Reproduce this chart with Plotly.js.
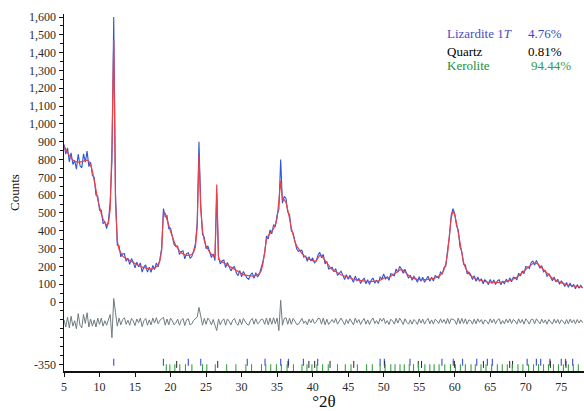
<!DOCTYPE html>
<html>
<head>
<meta charset="utf-8">
<script src="https://cdn.plot.ly/plotly-3.0.1.min.js"></script>
<style>html,body{margin:0;padding:0;background:#fff;}#chart{width:584px;height:411px;}</style>
</head>
<body>
<div id="chart"></div>
<script>
// Sampling grid of the scan (degrees 2-theta)
const start2T = 5.0;
const step2T = 0.25;

// Observed counts (blue), 4 values per degree from 5.00 to 78.00
const observed = [
  885, 830, 865, 787,   // 5
  838, 772, 795, 746,   // 6
  830, 766, 753, 832,   // 7
  786, 847, 760, 785,   // 8
  710, 700, 600, 595,   // 9
  515, 515, 440, 450,   // 10
  412, 455, 560, 790,   // 11
  1600, 610, 320, 315,  // 12
  254, 270, 272, 229,   // 13
  246, 212, 244, 224,   // 14
  192, 224, 198, 220,   // 15
  168, 198, 208, 168,   // 16
  196, 167, 206, 182,   // 17
  220, 198, 240, 305,   // 18
  525, 478, 485, 412,   // 19
  415, 369, 322, 312,   // 20
  314, 267, 283, 288,   // 21
  243, 272, 277, 245,   // 22
  256, 288, 328, 445,   // 23
  900, 545, 380, 363,   // 24
  300, 315, 286, 250,   // 25
  270, 232, 610, 255,   // 26
  214, 231, 236, 194,   // 27
  222, 202, 175, 194,   // 28
  198, 164, 148, 177,   // 29
  142, 172, 153, 135,   // 30
  127, 152, 164, 133,   // 31
  165, 141, 156, 189,   // 32
  227, 275, 370, 354,   // 33
  405, 383, 434, 423,   // 34
  490, 520, 800, 555,   // 35
  593, 582, 505, 490,   // 36
  400, 388, 344, 299,   // 37
  284, 290, 290, 252,   // 38
  258, 229, 255, 230,   // 39
  248, 220, 230, 263,   // 40
  280, 248, 268, 214,   // 41
  229, 186, 190, 195,   // 42
  170, 188, 150, 162,   // 43
  173, 151, 127, 153,   // 44
  128, 151, 128, 111,   // 45
  146, 118, 134, 104,   // 46
  122, 135, 102, 125,   // 47
  99, 123, 135, 106,    // 48
  123, 105, 140, 130,   // 49
  158, 128, 142, 122,   // 50
  159, 156, 146, 186,   // 51
  167, 200, 186, 162,   // 52
  184, 153, 134, 151,   // 53
  122, 144, 131, 111,   // 54
  142, 117, 139, 111,   // 55
  132, 145, 116, 140,   // 56
  118, 149, 143, 134,   // 57
  168, 158, 194, 203,   // 58
  293, 363, 486, 524,   // 59
  498, 429, 405, 308,   // 60
  283, 212, 208, 158,   // 61
  168, 154, 126, 148,   // 62
  117, 141, 118, 131,   // 63
  103, 125, 115, 98,    // 64
  127, 104, 124, 98,    // 65
  118, 126, 97, 118,    // 66
  101, 129, 111, 136,   // 67
  114, 140, 137, 125,   // 68
  162, 146, 175, 159,   // 69
  199, 197, 188, 222,   // 70
  230, 207, 234, 214,   // 71
  190, 204, 170, 177,   // 72
  143, 160, 142, 119,   // 73
  141, 113, 128, 100,   // 74
  118, 106, 87, 110,    // 75
  83, 107, 85, 99,      // 76
  75, 98, 77, 94,       // 77
  77                    // 78
];

// Calculated profile (red), same grid
const calculated = [
  875, 860, 840, 822,   // 5
  808, 797, 790, 786,   // 6
  785, 786, 788, 792,   // 7
  796, 797, 790, 770,   // 8
  735, 690, 630, 575,   // 9
  530, 495, 465, 445,   // 10
  432, 440, 520, 880,   // 11
  1470, 560, 345, 295,  // 12
  272, 258, 250, 244,   // 13
  238, 232, 226, 220,   // 14
  214, 209, 204, 200,   // 15
  196, 193, 190, 188,   // 16
  186, 185, 186, 190,   // 17
  198, 210, 232, 290,   // 18
  500, 498, 470, 430,   // 19
  395, 365, 340, 318,   // 20
  300, 287, 277, 270,   // 21
  265, 262, 261, 263,   // 22
  268, 280, 310, 420,   // 23
  820, 520, 400, 345,   // 24
  315, 295, 280, 268,   // 25
  258, 252, 660, 240,   // 26
  232, 226, 220, 214,   // 27
  207, 200, 193, 186,   // 28
  180, 174, 168, 163,   // 29
  158, 154, 151, 149,   // 30
  147, 146, 146, 147,   // 31
  149, 153, 160, 175,   // 32
  215, 290, 350, 372,   // 33
  385, 398, 412, 435,   // 34
  470, 570, 680, 575,   // 35
  575, 560, 520, 470,   // 36
  415, 370, 340, 315,   // 37
  298, 284, 272, 262,   // 38
  254, 247, 241, 236,   // 39
  232, 230, 232, 245,   // 40
  262, 262, 248, 232,   // 41
  215, 202, 192, 183,   // 42
  176, 170, 164, 158,   // 43
  153, 149, 145, 141,   // 44
  138, 135, 132, 129,   // 45
  126, 124, 122, 120,   // 46
  118, 117, 116, 115,   // 47
  115, 115, 115, 116,   // 48
  117, 119, 122, 128,   // 49
  138, 140, 136, 138,   // 50
  145, 152, 160, 168,   // 51
  175, 180, 182, 178,   // 52
  168, 157, 148, 141,   // 53
  136, 132, 129, 127,   // 54
  126, 125, 125, 125,   // 55
  126, 127, 128, 130,   // 56
  132, 135, 139, 144,   // 57
  152, 164, 182, 215,   // 58
  275, 375, 470, 510,   // 59
  490, 445, 385, 320,   // 60
  265, 222, 192, 172,   // 61
  158, 148, 140, 134,   // 62
  129, 125, 122, 119,   // 63
  117, 115, 113, 112,   // 64
  111, 110, 110, 110,   // 65
  110, 110, 111, 112,   // 66
  113, 115, 117, 120,   // 67
  124, 128, 133, 139,   // 68
  146, 154, 163, 173,   // 69
  183, 193, 202, 210,   // 70
  216, 219, 218, 212,   // 71
  202, 190, 178, 167,   // 72
  157, 148, 140, 133,   // 73
  127, 121, 116, 112,   // 74
  108, 104, 101, 98,    // 75
  95, 93, 91, 89,       // 76
  87, 86, 85, 84,       // 77
  83                    // 78
];

// Difference curve is plotted shifted below zero
const diffOffset = -110;

// Reflection positions of each phase (degrees 2-theta)
const lizarditeTicks = [12.0, 19.0, 22.5, 24.25, 30.8, 33.3, 35.5, 36.6, 38.7, 40.7, 49.5, 50.1, 53.7, 58.2, 59.8, 61.1, 63.1, 64.6, 65.3, 70.2, 71.5, 72.1, 73.4, 75.0, 75.6, 76.6];
const quartzTicks = [20.86, 26.64, 36.54, 39.47, 40.29, 42.45, 45.79, 50.14, 54.87, 55.33, 59.96, 64.04, 67.74, 68.14, 73.47, 75.66];
const keroliteTicks = [19.4, 19.9, 20.6, 21.3, 22.1, 23.0, 24.5, 25.1, 26.3, 27.9, 29.2, 30.6, 31.4, 32.8, 33.4, 34.1, 34.9, 35.6, 36.4, 37.3, 38.5, 39.2, 39.9, 40.6, 41.4, 42.2, 43.5, 44.6, 45.4, 46.3, 47.6, 48.4, 49.5, 50.2, 51.0, 51.6, 52.3, 52.9, 53.6, 54.2, 54.9, 55.8, 56.5, 57.1, 57.8, 58.6, 59.4, 60.1, 60.8, 61.5, 62.3, 62.9, 63.7, 64.4, 65.2, 66.0, 66.7, 67.4, 68.1, 68.9, 69.6, 70.4, 71.1, 71.8, 72.5, 73.2, 73.9, 74.6, 75.3, 76.0, 76.7, 77.4];

// Phase labels
const phaseNames = ['Lizardite 1<i>T</i>', 'Quartz', 'Kerolite'];
const phasePercents = ['4.76%', '0.81%', '94.44%'];

// Axis tick labels
const yTickVals = [-350, 0, 100, 200, 300, 400, 500, 600, 700, 800, 900, 1000, 1100, 1200, 1300, 1400, 1500, 1600];
const yTickText = ['-350', '0', '100', '200', '300', '400', '500', '600', '700', '800', '900', '1,000', '1,100', '1,200', '1,300', '1,400', '1,500', '1,600'];

if (observed.length !== calculated.length) throw new Error('length mismatch ' + observed.length + ' vs ' + calculated.length);

const twoTheta = observed.map((_, i) => start2T + i * step2T);
const difference = observed.map((v, i) => v - calculated[i] + diffOffset);

const serif = "'Liberation Serif', 'Times New Roman', serif";

const traces = [
  {x: twoTheta, y: difference, mode: 'lines', line: {color: 'rgb(112,124,128)', width: 1}},
  {x: twoTheta, y: observed, mode: 'lines', line: {color: 'rgb(45,85,215)', width: 1.1}},
  {x: twoTheta, y: calculated, mode: 'lines', line: {color: 'rgb(235,65,70)', width: 1.2}},
  {x: lizarditeTicks, y: lizarditeTicks.map(() => -338), mode: 'markers',
   marker: {symbol: 'line-ns', size: 5, line: {color: 'rgb(70,90,220)', width: 1.2}}},
  {x: quartzTicks, y: quartzTicks.map(() => -350), mode: 'markers',
   marker: {symbol: 'line-ns', size: 5, line: {color: 'rgb(40,40,40)', width: 1}}},
  {x: keroliteTicks, y: keroliteTicks.map(() => -372), mode: 'markers',
   marker: {symbol: 'line-ns', size: 6, line: {color: 'rgb(60,160,70)', width: 1.1}}}
];

const nameColors = ['rgb(75,75,200)', '#000', 'rgb(35,145,55)'];
const pctColors = ['rgb(55,75,200)', '#000', 'rgb(55,155,65)'];
const rowY = [0.944, 0.896, 0.857];
const pctX = [0.888, 0.888, 0.894];
const annotations = [];
phaseNames.forEach((n, i) => {
  annotations.push({xref: 'paper', yref: 'paper', x: 0.733, y: rowY[i], xanchor: 'left', yanchor: 'middle',
    text: n, showarrow: false, font: {family: serif, size: 13, color: nameColors[i]}});
  annotations.push({xref: 'paper', yref: 'paper', x: pctX[i], y: rowY[i], xanchor: 'left', yanchor: 'middle',
    text: phasePercents[i], showarrow: false, font: {family: serif, size: 13, color: pctColors[i]}});
});

const layout = {
  width: 584, height: 411,
  margin: {l: 64, r: 0, t: 14, b: 40},
  paper_bgcolor: '#fff', plot_bgcolor: '#fff',
  showlegend: false,
  font: {family: serif, size: 12, color: '#2a2a2a'},
  xaxis: {
    range: [5, 78.2], tickmode: 'linear', tick0: 5, dtick: 5,
    showgrid: false, zeroline: false, showline: true, linecolor: '#111', linewidth: 1.5,
    ticks: 'outside', ticklen: 4, tickcolor: '#111',
    tickfont: {family: serif, size: 12, color: '#2a2a2a'},
    title: {text: '°2θ', font: {family: serif, size: 17, color: '#111'}, standoff: 4}
  },
  yaxis: {
    range: [-387, 1617], tickmode: 'array', tickvals: yTickVals, ticktext: yTickText,
    showgrid: false, zeroline: false, showline: true, linecolor: '#111', linewidth: 1.5,
    ticks: 'outside', ticklen: 4, tickcolor: '#111',
    minor: {tick0: 0, dtick: 50, ticks: 'outside', ticklen: 3, tickcolor: '#111', showgrid: false},
    tickfont: {family: serif, size: 12, color: '#2a2a2a'},
    title: {text: 'Counts', font: {family: serif, size: 13, color: '#111'}, standoff: 6}
  },
  annotations: annotations
};

Plotly.newPlot('chart', traces, layout, {displayModeBar: false, staticPlot: true});
</script>
</body>
</html>
